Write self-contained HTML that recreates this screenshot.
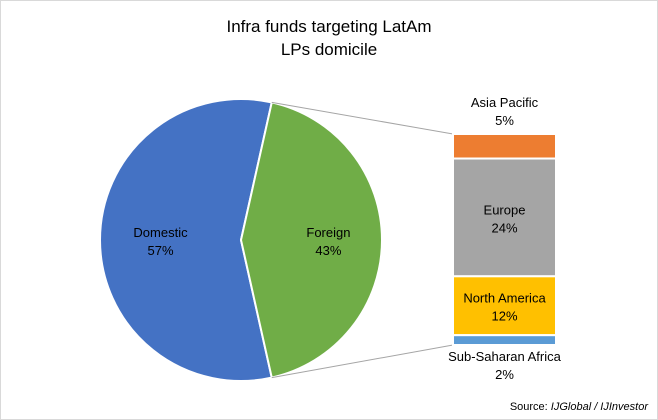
<!DOCTYPE html>
<html><head><meta charset="utf-8"><style>
body{margin:0;background:#fff;}
svg{display:block;font-family:"Liberation Sans",Arial,sans-serif;}
</style></head><body>
<svg id="c" width="658" height="420" viewBox="0 0 658 420">
<rect x="0.5" y="0.5" width="657" height="419" fill="#fff" stroke="#d9d9d9"/>
<text x="329" y="32" text-anchor="middle" font-size="17" fill="#000">Infra funds targeting LatAm</text>
<text x="329" y="55" text-anchor="middle" font-size="17" fill="#000">LPs domicile</text>
<g id="pie"></g>
<g id="bar"></g>
<text x="648" y="410" text-anchor="end" font-size="11" fill="#000">Source: <tspan font-style="italic">IJGlobal / IJInvestor</tspan></text>
</svg>
<script>
const pieLabels=["Domestic","Foreign"];
const pieValues=[57,43];
const pieColors=["#4472c4","#70ad47"];
const barLabels=["Asia Pacific","Europe","North America","Sub-Saharan Africa"];
const barValues=[5,24,12,2];
const barColors=["#ed7d31","#a5a5a5","#ffc000","#5b9bd5"];
const NS="http://www.w3.org/2000/svg";
function mk(t,a,p){const e=document.createElementNS(NS,t);for(const k in a)e.setAttribute(k,a[k]);p.appendChild(e);return e;}
const cx=241,cy=240,R=141;
const pie=document.getElementById('pie');
const total=pieValues.reduce((a,b)=>a+b,0);
// foreign slice centred on the right (90deg)
const fAng=pieValues[1]/total*360;
let start=90-fAng/2; // degrees clockwise from top, for foreign
function pt(a,r){const t=(a-90)*Math.PI/180;return [cx+r*Math.cos(t),cy+r*Math.sin(t)];}
const angles=[[start+fAng,start+360],[start,start+fAng]];
let fTop,fBot;
for(let i=0;i<pieValues.length;i++){
  const [a0,a1]=angles[i];const p0=pt(a0,R),p1=pt(a1,R);const large=(a1-a0)>180?1:0;
  const s=mk('path',{d:`M${cx},${cy}L${p0[0]},${p0[1]}A${R},${R} 0 ${large} 1 ${p1[0]},${p1[1]}Z`,fill:pieColors[i],stroke:'#fff','stroke-width':2},pie);
  
  
  const m=(a0+a1)/2;const lp=pt(m,i==0?R*0.5:R*0.62);
  const t=mk('text',{x:lp[0]+(i==0?-10:0),y:lp[1]-3,'text-anchor':'middle','font-size':13},pie);t.textContent=pieLabels[i];
  
  
  const t2=mk('text',{x:lp[0]+(i==0?-10:0),y:lp[1]+15,'text-anchor':'middle','font-size':13},pie);t2.textContent=pieValues[i]+'%';
  
  
  if(i==1){fTop=p0;fBot=p1;}
}
const bar=document.getElementById('bar');
const bx=453,bw=103,bTop=134,bBot=345;
const bt=barValues.reduce((a,b)=>a+b,0);const sc=(bBot-bTop)/bt;
let l1=mk('line',{x1:fTop[0],y1:fTop[1],x2:bx,y2:bTop,stroke:'#a5a5a5','stroke-width':1},bar);

let l2=mk('line',{x1:fBot[0],y1:fBot[1],x2:bx,y2:bBot,stroke:'#a5a5a5','stroke-width':1},bar);

let y=bTop;
for(let i=0;i<barValues.length;i++){
  const h=barValues[i]*sc;
  const r=mk('rect',{x:bx,y:y,width:bw,height:h,fill:barColors[i],stroke:'#fff','stroke-width':2},bar);
  
  
  let ly;
  if(i==0)ly=bTop-27;else if(i==barValues.length-1)ly=bBot+16;else ly=y+h/2-3;
  const t=mk('text',{x:bx+bw/2,y:ly,'text-anchor':'middle','font-size':13},bar);t.textContent=barLabels[i];
  
  
  const t2=mk('text',{x:bx+bw/2,y:ly+18,'text-anchor':'middle','font-size':13},bar);t2.textContent=barValues[i]+'%';
  
  
  y+=h;
}
</script>
</body></html>
